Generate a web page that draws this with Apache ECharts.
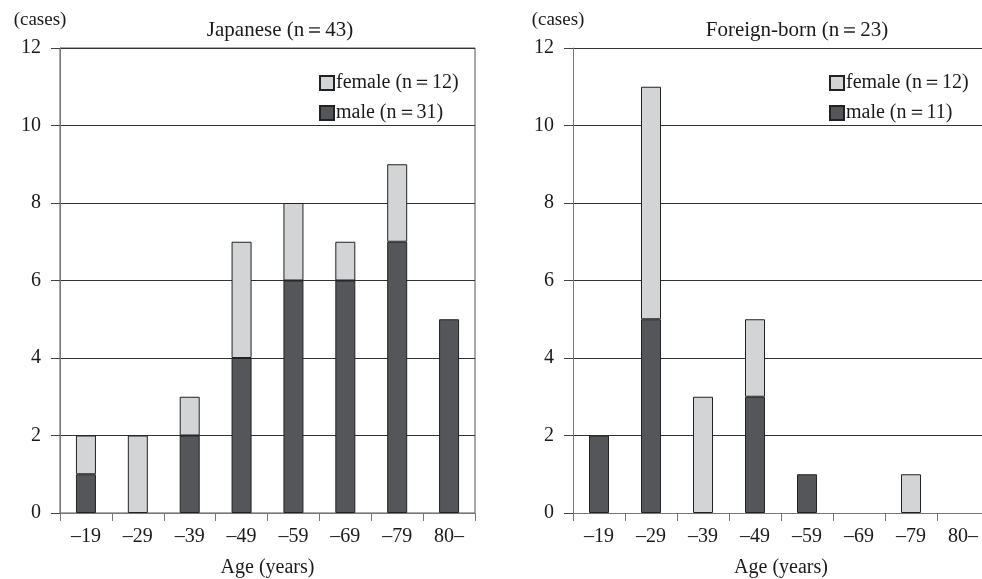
<!DOCTYPE html>
<html>
<head>
<meta charset="utf-8">
<script src="https://cdn.jsdelivr.net/npm/echarts@6/dist/echarts.min.js"></script>
<style>html,body{margin:0;padding:0;background:#fff}#c{width:982px;height:579px}</style>
</head>
<body>
<div id="c"></div>
<script>
var categories = ['–19', '–29', '–39', '–49', '–59', '–69', '–79', '80–'];
var yTicks = [0, 2, 4, 6, 8, 10, 12];
var japaneseMale = [1, 0, 2, 4, 6, 6, 7, 5];
var japaneseFemale = [1, 2, 1, 3, 2, 1, 2, 0];
var foreignMale = [2, 5, 0, 3, 1, 0, 0, 0];
var foreignFemale = [0, 6, 3, 2, 0, 0, 1, 0];
var titles = ['Japanese (n\uFF1D43)', 'Foreign-born (n\uFF1D23)'];
var legendJapanese = ['female (n\uFF1D12)', 'male (n\uFF1D31)'];
var legendForeign = ['female (n\uFF1D12)', 'male (n\uFF1D11)'];

var FONT = '"Liberation Serif", "Times New Roman", serif';
var TXT = '#1a1a1a';
var MALE = '#555659';
var FEMALE = '#d3d4d6';
function nz(a){ return a.map(function(v){ return v === 0 ? '-' : v; }); }

function xAxis(gi){
  return {
    type: 'category', gridIndex: gi, data: categories,
    name: 'Age (years)', nameLocation: 'middle', nameGap: 45,
    nameTextStyle: {fontFamily: FONT, fontSize: 20, color: TXT},
    axisLine: {show: true, lineStyle: {color: '#777', width: 1}},
    axisTick: {show: true, length: 8, alignWithLabel: false, lineStyle: {color: '#777'}},
    axisLabel: {fontFamily: FONT, fontSize: 20, color: TXT, margin: 14},
    splitLine: {show: false}
  };
}
function yAxis(gi, shift){
  return {
    type: 'value', gridIndex: gi, min: yTicks[0], max: yTicks[yTicks.length-1], interval: 2,
    name: '(cases)', nameLocation: 'end', nameGap: 18,
    nameTextStyle: {fontFamily: FONT, fontSize: 19, color: TXT, align: 'center', padding: [0, shift, 0, 0]},
    axisLine: {show: true, lineStyle: {color: '#777', width: 1}},
    axisTick: {show: true, length: 9, inside: false, lineStyle: {color: '#444'}},
    axisLabel: {fontFamily: FONT, fontSize: 20, color: TXT, margin: 19},
    splitLine: {show: true, lineStyle: {color: '#333', width: 1}}
  };
}
function bar(name, data, gi, color){
  return {
    type: 'bar', name: name, xAxisIndex: gi, yAxisIndex: gi, stack: 's' + gi,
    data: nz(data), barWidth: 20,
    itemStyle: {color: color, borderColor: '#222', borderWidth: 1},
    emphasis: {disabled: true}, animation: false
  };
}
function legend(data, left){
  return {
    data: data, orient: 'vertical', left: left, top: 68, itemGap: 10,
    itemWidth: 14, itemHeight: 14, icon: 'rect',
    textStyle: {fontFamily: FONT, fontSize: 20, color: TXT, padding: [0, 0, 0, -3]},
    selectedMode: false
  };
}

var chart = echarts.init(document.getElementById('c'), null, {renderer: 'canvas'});
chart.setOption({
  backgroundColor: '#fff',
  animation: false,
  title: [
    {text: titles[0], left: 275, top: 15, textAlign: 'center',
     textStyle: {fontFamily: FONT, fontSize: 21, fontWeight: 'normal', color: TXT}},
    {text: titles[1], left: 792, top: 15, textAlign: 'center',
     textStyle: {fontFamily: FONT, fontSize: 21, fontWeight: 'normal', color: TXT}}
  ],
  legend: [legend(legendJapanese, 314), legend(legendForeign, 824)],
  grid: [
    {left: 60, top: 48, width: 415, height: 465, containLabel: false, outerBoundsMode: 'none',
     show: true, borderColor: '#555', borderWidth: 1, backgroundColor: 'transparent'},
    {left: 573, top: 48, width: 416, height: 465, containLabel: false, outerBoundsMode: 'none', show: false}
  ],
  xAxis: [xAxis(0), xAxis(1)],
  yAxis: [yAxis(0, 40), yAxis(1, 30)],
  series: [
    bar(legendJapanese[1], japaneseMale, 0, MALE),
    bar(legendJapanese[0], japaneseFemale, 0, FEMALE),
    bar(legendForeign[1], foreignMale, 1, MALE),
    bar(legendForeign[0], foreignFemale, 1, FEMALE)
  ]
});
</script>
</body>
</html>
